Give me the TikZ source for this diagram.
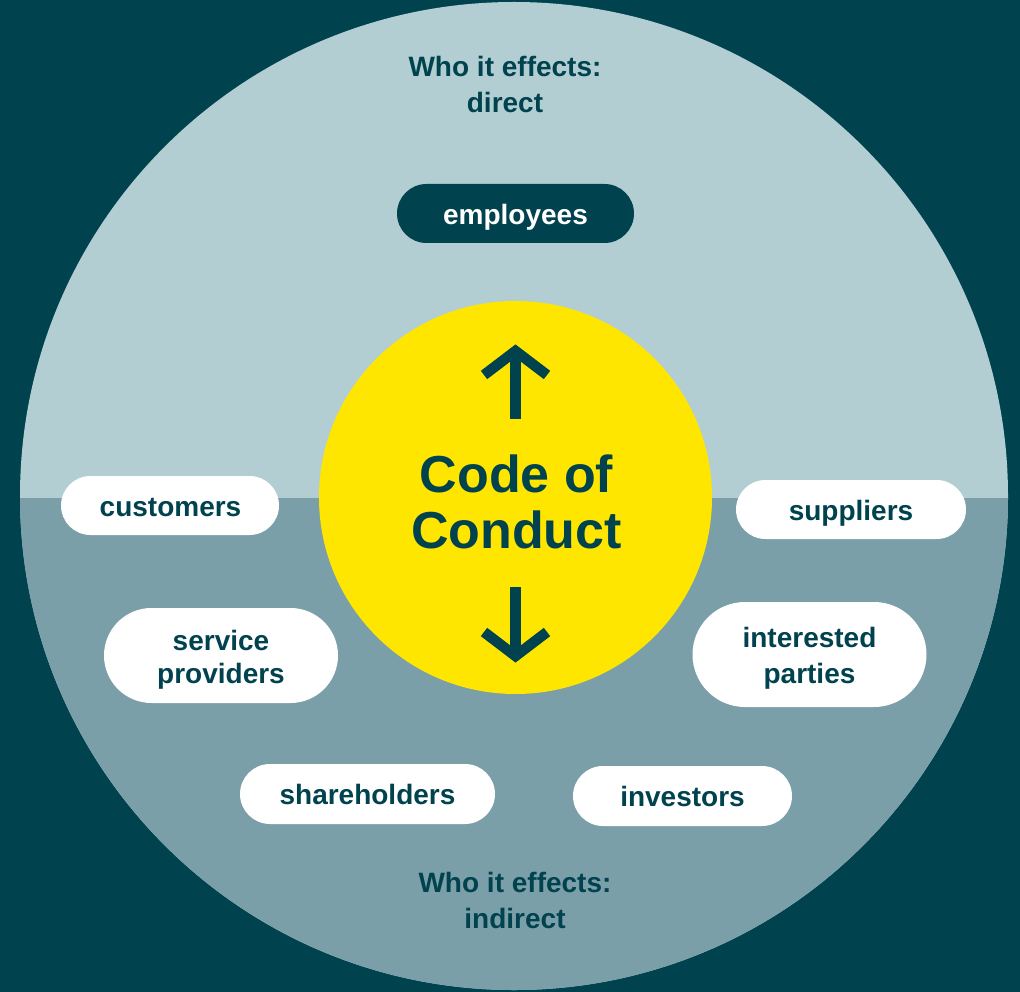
\documentclass[tikz,border=0pt]{standalone}
\usepackage{fontspec}
\setmainfont{Liberation Sans}
\definecolor{bgdark}{HTML}{00434F}
\definecolor{lighttop}{HTML}{B3CED2}
\definecolor{lowerpart}{HTML}{7B9FA8}
\definecolor{yell}{HTML}{FFE600}
\tikzset{
  pill/.style={rectangle, fill=white, inner sep=0pt},
  darkpill/.style={pill, fill=bgdark},
  pilltext/.style={text=bgdark, inner sep=0pt, align=center, anchor=base,
    font=\fontsize{28}{33}\selectfont\bfseries},
  heading/.style={text=bgdark, inner sep=0pt, align=center, anchor=base,
    font=\fontsize{28}{36.5}\selectfont\bfseries},
  arrowline/.style={draw=bgdark, line width=10.5pt, line join=miter, line cap=butt}
}
\begin{document}
\begin{tikzpicture}[x=1pt,y=-1pt]
\useasboundingbox (0,0) rectangle (1020,992);
\fill[bgdark] (0,0) rectangle (1020,992);
\fill[lighttop] (514,496) circle[radius=494];
\begin{scope}
  \clip (0,498) rectangle (1020,992);
  \fill[lowerpart] (514,496) circle[radius=494];
\end{scope}
% central circle
\node[circle, fill=yell, minimum size=393pt, inner sep=0pt] (coc) at (515.5,497.5) {};
\node[text=bgdark, inner sep=0pt, align=center,
  font=\fontsize{52}{56}\selectfont\bfseries, anchor=base] (title) at (516.5,548) {Code of\\Conduct};
% arrows
\draw[arrowline] (484,375) -- (515.5,351) -- (547,375);
\draw[arrowline] (515.5,351) -- (515.5,419);
\draw[arrowline] (484,632) -- (515.5,656) -- (547,632);
\draw[arrowline] (515.5,656) -- (515.5,587);
% headings
\node[heading] (direct) at (505,113) {Who it effects:\\direct};
\node[heading] (indirect) at (515,928.5) {Who it effects:\\indirect};
% pills
\node[darkpill, minimum width=237pt, minimum height=59pt, rounded corners=29.5pt] (employees) at (515.5,213.5) {};
\node[pilltext, text=white] (employeesT) at (515.5,224.5) {employees};
\node[pill, minimum width=218pt, minimum height=59pt, rounded corners=29.5pt] (customers) at (170,505.5) {};
\node[pilltext] (customersT) at (170.5,516.5) {customers};
\node[pill, minimum width=230pt, minimum height=59pt, rounded corners=29.5pt] (suppliers) at (851,509.5) {};
\node[pilltext] (suppliersT) at (851,520.5) {suppliers};
\node[pill, minimum width=234pt, minimum height=95pt, rounded corners=47.5pt] (service) at (221,655.5) {};
\node[pilltext] (serviceT) at (221,683.5) {service\\providers};
\node[pill, minimum width=234pt, minimum height=105pt, rounded corners=52.5pt] (interested) at (809.5,654.5) {};
\node[pilltext, font=\fontsize{28}{36}\selectfont\bfseries] (interestedT) at (809.5,683.5) {interested\\parties};
\node[pill, minimum width=255pt, minimum height=60pt, rounded corners=30pt] (shareholders) at (367.5,794) {};
\node[pilltext] (shareholdersT) at (367.5,804.5) {shareholders};
\node[pill, minimum width=219pt, minimum height=60pt, rounded corners=30pt] (investors) at (682.5,796) {};
\node[pilltext] (investorsT) at (682.5,806.5) {investors};
\end{tikzpicture}
\end{document}
